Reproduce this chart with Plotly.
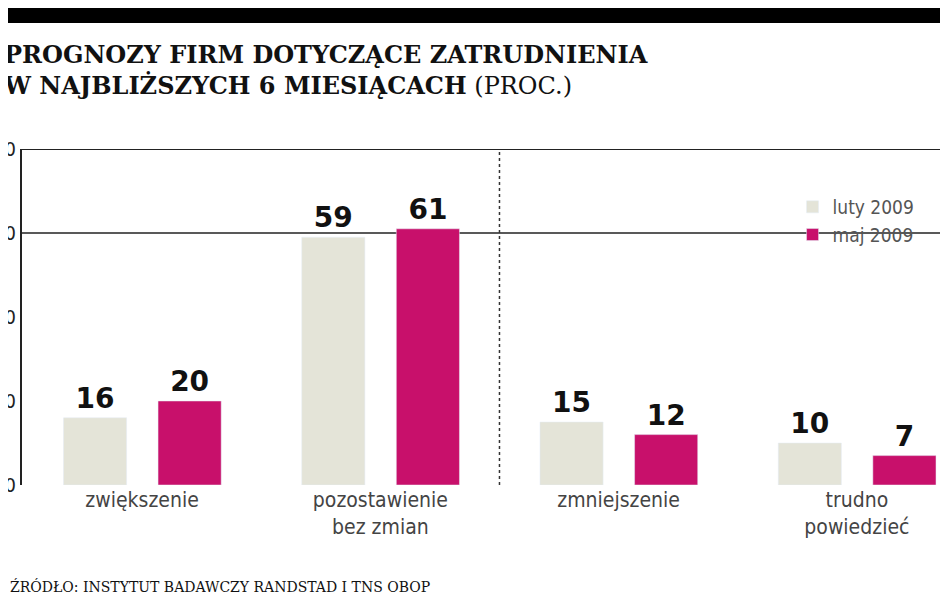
import plotly.graph_objects as go

categories = ["zwiększenie", "pozostawienie<br>bez zmian", "zmniejszenie", "trudno<br>powiedzieć"]
luty_2009 = [16, 59, 15, 10]
maj_2009 = [20, 61, 12, 7]
series_names = ["luty 2009", "maj 2009"]
ytick_vals = [0, 20, 40, 60, 80]

H = 336.0  # plot height in px (141..477)
def py(pix):
    return (477 - pix) / H

xs = list(range(len(categories)))
fig = go.Figure()
lbl = dict(family="DejaVu Sans", size=28, color="#111")
fig.add_bar(x=xs, y=luty_2009, name=series_names[0], marker_color="#e4e4d8",
            width=0.265, offset=-0.33, text=[f"<b>{v}</b>" for v in luty_2009],
            textposition="outside", textfont=lbl, cliponaxis=False)
fig.add_bar(x=xs, y=maj_2009, name=series_names[1], marker_color="#c8106b",
            width=0.265, offset=0.067, text=[f"<b>{v}</b>" for v in maj_2009],
            textposition="outside", textfont=lbl, cliponaxis=False)

fig.update_layout(
    width=948, height=593, barmode="overlay",
    margin=dict(l=14, r=0, t=141, b=116),
    paper_bgcolor="white", plot_bgcolor="white",
    font=dict(family="DejaVu Sans Condensed", color="#333"),
    xaxis=dict(range=[-0.504, 3.416], tickvals=xs, ticktext=categories, automargin=False,
               tickfont=dict(size=21, color="#444"), showgrid=False, zeroline=False,
               showline=False, ticks=""),
    yaxis=dict(range=[0, 80], tickvals=ytick_vals, showgrid=False, zeroline=False,
               automargin=False, showline=True, linecolor="#222", linewidth=2, ticks="",
               tickfont=dict(size=20, color="#222")),
    legend=dict(x=0.825, y=py(180), xanchor="left", yanchor="top",
                font=dict(size=19, color="#555"), bgcolor="rgba(0,0,0,0)",
                tracegroupgap=18),
    showlegend=True,
    shapes=[
        dict(type="line", xref="paper", yref="y", x0=0, x1=1, y0=80, y1=80,
             line=dict(color="#222", width=2)),
        dict(type="line", xref="paper", yref="y", x0=0, x1=1, y0=60, y1=60,
             line=dict(color="#222", width=1.5), layer="below"),
        dict(type="line", xref="x", yref="y", x0=1.5, x1=1.5, y0=0, y1=80,
             line=dict(color="#333", width=1.5, dash="dot")),
        dict(type="rect", xref="paper", yref="paper", x0=-0.1, x1=1.1,
             y0=py(15), y1=py(-5), fillcolor="black", line=dict(width=0)),
    ],
)
fig.add_annotation(xref="paper", yref="paper", x=-0.022, y=py(30), xanchor="left",
                   yanchor="top", align="left", showarrow=False,
                   text="<b>PROGNOZY FIRM DOTYCZĄCE ZATRUDNIENIA<br>W NAJBLIŻSZYCH 6 MIESIĄCACH</b> (PROC.)",
                   font=dict(family="DejaVu Serif", size=24, color="#111"))
fig.add_annotation(xref="paper", yref="paper", x=-0.015, y=py(578), xanchor="left",
                   yanchor="middle", showarrow=False,
                   text="ŹRÓDŁO: INSTYTUT BADAWCZY RANDSTAD I TNS OBOP",
                   font=dict(family="DejaVu Serif", size=14, color="#111"))
fig.write_html("out.html")
